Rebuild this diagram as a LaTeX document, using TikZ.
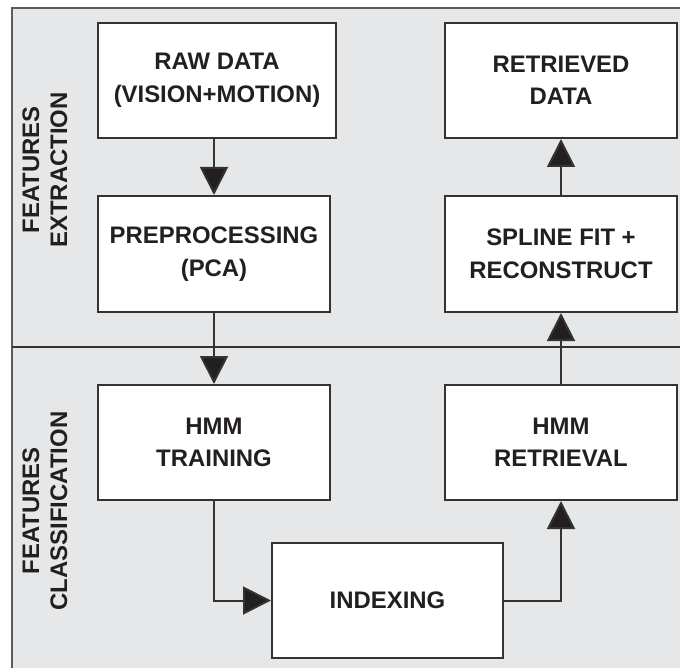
\documentclass[tikz,border=0pt]{standalone}
\usepackage{fontspec}
\setmainfont{Liberation Sans}
\usetikzlibrary{arrows.meta}
\definecolor{bg}{HTML}{E6E7E8}
\definecolor{ink}{HTML}{231F20}
\definecolor{edge}{HTML}{333333}
\tikzset{
  box/.style={draw=edge, line width=2pt, fill=white, minimum height=115pt, align=center,
    text=ink, font=\bfseries\fontsize{23.9}{32.5}\selectfont, inner sep=0pt},
  conn/.style={draw=edge, line width=2pt},
  arr/.style={conn, -{Triangle[length=28pt,width=28pt,fill=ink]}},
  sidelabel/.style={rotate=90, align=center, text=ink, font=\bfseries\fontsize{23.9}{28}\selectfont}
}
\begin{document}
\begin{tikzpicture}[x=1pt,y=-1pt]
\useasboundingbox (0,0) rectangle (680,668);
\fill[bg] (12,8) rectangle (700,690);
\draw[draw=edge!80, line width=1.5pt] (12,690) -- (12,8) -- (700,8);
\draw[conn] (12,347) -- (700,347);

\node[box, minimum width=238pt] (raw) at (217,80.5) {RAW DATA\\(VISION+MOTION)};
\node[box, minimum width=232pt, minimum height=116pt] (pre) at (214,254) {PREPROCESSING\\(PCA)};
\node[box, minimum width=232pt] (train) at (214,442.5) {HMM\\TRAINING};
\node[box, minimum width=231pt] (idx) at (387.5,600.5) {INDEXING};
\node[box, minimum width=232pt] (retr) at (561,442.5) {HMM\\RETRIEVAL};
\node[box, minimum width=232pt, minimum height=116pt] (spl) at (561,254) {SPLINE FIT +\\RECONSTRUCT};
\node[box, minimum width=232pt] (retd) at (561,80.5) {RETRIEVED\\DATA};

\node[sidelabel] (lab1) at (45,170) {FEATURES\\EXTRACTION};
\node[sidelabel] (lab2) at (45,511) {FEATURES\\CLASSIFICATION};

\draw[arr] (pre.north |- raw.south) -- (pre.north);
\draw[arr] (pre.south) -- (train.north);
\draw[arr] (train.south) |- (idx.west);
\draw[arr] (idx.east) -| (retr.south);
\draw[arr] (retr.north) -- (spl.south);
\draw[arr] (spl.north) -- (retd.south);
\end{tikzpicture}
\end{document}
